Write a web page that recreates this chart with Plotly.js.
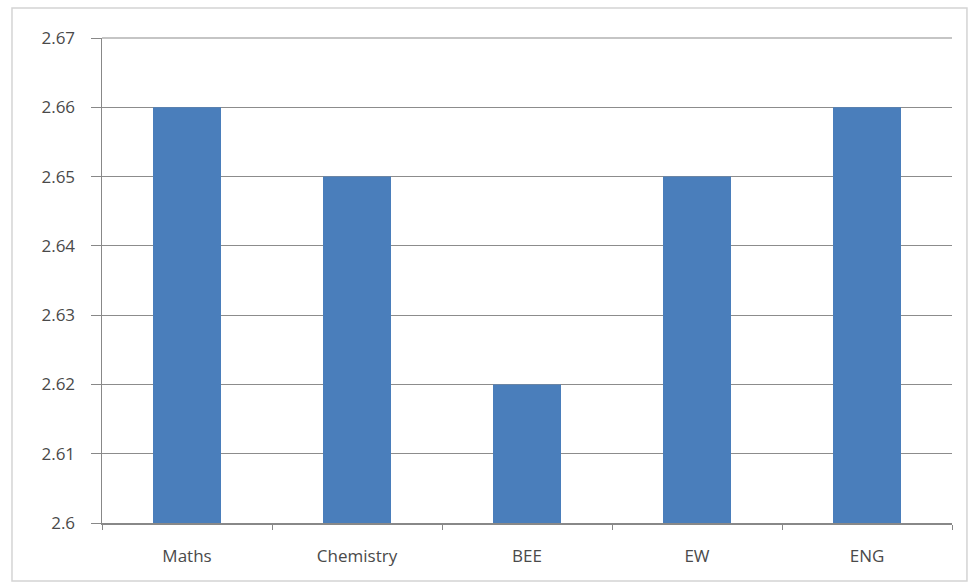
<!DOCTYPE html>
<html><head><meta charset="utf-8">
<script src="https://cdn.plot.ly/plotly-3.0.1.min.js"></script>
<style>html,body{margin:0;padding:0;background:#fff;}#c{width:969px;height:585px;}</style>
</head><body><div id="c"></div>
<script>
const subjects = ["Maths", "Chemistry", "BEE", "EW", "ENG"];
const scores = [2.66, 2.65, 2.62, 2.65, 2.66];
const yTicks = [2.6, 2.61, 2.62, 2.63, 2.64, 2.65, 2.66, 2.67];
const yTickText = ["2.6", "2.61", "2.62", "2.63", "2.64", "2.65", "2.66", "2.67"];

Plotly.newPlot("c", [{
  type: "bar", x: subjects, y: scores,
  marker: {color: "#4a7ebb", line: {width: 0}},
  hoverinfo: "x+y"
}], {
  width: 969, height: 585,
  margin: {l: 102, r: 17, t: 38, b: 62},
  paper_bgcolor: "#fff", plot_bgcolor: "#fff",
  bargap: 0.6,
  font: {family: "Open Sans, Liberation Sans, sans-serif", size: 17, color: "#4a4a4a"},
  xaxis: {
    type: "category", showline: true, linecolor: "#888", linewidth: 1.5,
    ticks: "outside", tickson: "boundaries", ticklen: 5, tickcolor: "#888",
    showgrid: false, zeroline: false, tickfont: {size: 17, color: "#4a4a4a"},
    ticklabelstandoff: 17
  },
  yaxis: {
    range: [2.6, 2.67], tickvals: yTicks, ticktext: yTickText,
    showline: true, linecolor: "#888", linewidth: 1.5,
    ticks: "outside", ticklen: 10, tickcolor: "#888",
    showgrid: true, gridcolor: "#8c8c8c", gridwidth: 1.2, zeroline: false,
    tickfont: {size: 17, color: "#4a4a4a"}, ticklabelstandoff: 12
  },
  shapes: [
    {type: "line", xref: "paper", yref: "paper", x0: 0, x1: 1, y0: 1, y1: 1,
     line: {color: "#8c8c8c", width: 1.2}, layer: "below"},
    {type: "rect", xref: "paper", yref: "paper",
     x0: -0.1059, x1: 1.0176, y0: -0.1196, y1: 1.0619,
     line: {color: "#d4d4d4", width: 1.5}, fillcolor: "rgba(0,0,0,0)", layer: "below"}
  ],
  showlegend: false
}, {displayModeBar: false, staticPlot: true});
</script></body></html>
